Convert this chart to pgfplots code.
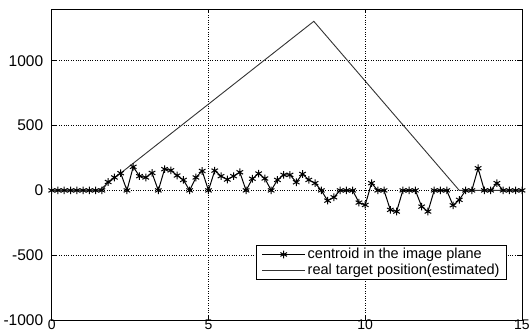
\documentclass[border=0pt]{standalone}
\usepackage{fontspec}
\setmainfont{Liberation Sans}
\usepackage{pgfplots}
\pgfplotsset{compat=1.18}
\begin{document}
\begin{tikzpicture}
\useasboundingbox (0,0) rectangle (531pt,335pt);
\begin{axis}[
  at={(51.7pt,15pt)}, anchor=south west,
  width=470.3pt, height=311pt, scale only axis,
  xmin=0, xmax=15, ymin=-1000, ymax=1400,
  xtick={0,5,10,15}, ytick={-1000,-500,0,500,1000},
  /pgf/number format/assume math mode=true,
  /pgf/number format/1000 sep={},
  yticklabel style={font=\fontsize{15.5}{17}\selectfont, black, xshift=-5pt},
  xticklabel style={font=\fontsize{14}{15}\selectfont, black, yshift=3.5pt},
  tick align=inside, major tick length=4pt,
  tick style={black, line width=0.7pt},
  axis line style={black, line width=0.9pt},
  grid=major,
  major grid style={dotted, black, line width=0.7pt},
  legend cell align=left,
  legend style={at={(0.968,0.129)}, anchor=south east,
    font=\fontsize{14.5}{16}\selectfont, draw=black, line width=0.8pt,
    inner xsep=5pt, inner ysep=1pt, row sep=0pt,
    /tikz/every odd column/.append style={column sep=0pt}},
  legend image code/.code={\draw[mark repeat=2,mark phase=2,#1] plot coordinates {(0pt,0pt)(21.5pt,0pt)(43pt,0pt)};},
]
\addplot[black, line width=1pt, mark=asterisk, mark size=3.8pt, mark options={line width=1pt}] table {
x y
0 0
0.2 0
0.4 0
0.6 0
0.8 0
1.0 0
1.2 0
1.4 0
1.6 0
1.8 65
2.0 100
2.2 133
2.4 0
2.6 182
2.8 110
3.0 100
3.2 135
3.4 0
3.6 164
3.8 155
4.0 115
4.2 81
4.4 0
4.6 100
4.8 150
5.0 0
5.2 153
5.4 110
5.6 84
5.8 110
6.0 140
6.2 0
6.4 90
6.6 130
6.8 92
7.0 0
7.2 81
7.4 120
7.6 120
7.8 63
8.0 127
8.2 81
8.4 56
8.6 0
8.8 -79
9.0 -53
9.2 0
9.4 0
9.6 0
9.8 -94
10.0 -112
10.2 56
10.4 0
10.6 0
10.8 -150
11.0 -163
11.2 0
11.4 0
11.6 0
11.8 -125
12.0 -163
12.2 0
12.4 0
12.6 0
12.8 -115
13.0 -73
13.2 0
13.4 0
13.6 171
13.8 0
14.0 0
14.2 56
14.4 0
14.6 0
14.8 0
15.0 0
};
\addlegendentry{centroid in the image plane}
\addplot[black!80, line width=0.9pt] table {
x y
0 0
1.5 0
8.36 1305
13.0 0
15 0
};
\addlegendentry{real target position(estimated)}
\end{axis}
\end{tikzpicture}
\end{document}
